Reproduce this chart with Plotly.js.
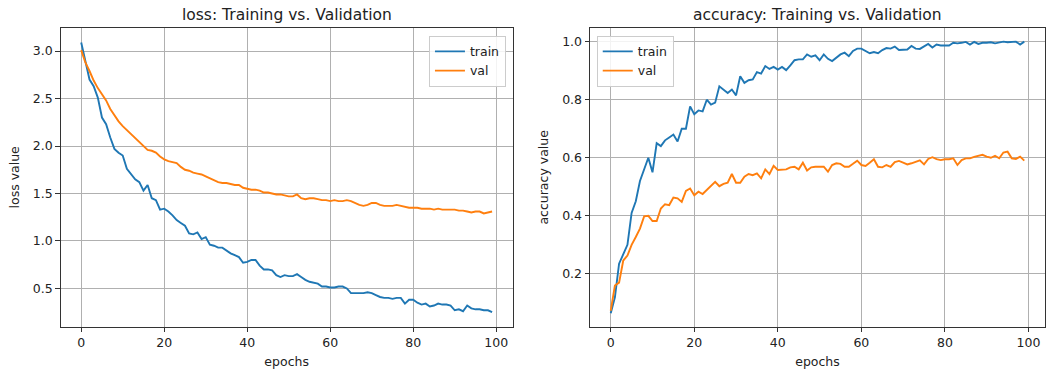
<!DOCTYPE html>
<html>
<head>
<meta charset="utf-8">
<script src="https://cdn.plot.ly/plotly-3.0.1.min.js"></script>
<style>html,body{margin:0;padding:0;background:#fff;}#chart{width:1046px;height:374px;}</style>
</head>
<body>
<div id="chart"></div>
<script>
const epochs = Array.from({length: 100}, (_, i) => i);

const trainLoss = [3.09,2.90,2.70,2.63,2.51,2.30,2.23,2.09,1.97,1.93,
1.90,1.76,1.71,1.65,1.62,1.53,1.59,1.45,1.43,1.33,
1.34,1.31,1.27,1.22,1.19,1.16,1.08,1.07,1.09,1.02,
1.04,0.96,0.95,0.93,0.93,0.90,0.87,0.85,0.83,0.77,
0.78,0.80,0.80,0.74,0.70,0.70,0.69,0.64,0.62,0.64,
0.63,0.63,0.65,0.62,0.59,0.57,0.56,0.55,0.52,0.52,
0.51,0.51,0.52,0.52,0.50,0.45,0.45,0.45,0.45,0.46,
0.45,0.43,0.41,0.40,0.40,0.39,0.40,0.40,0.34,0.38,
0.38,0.35,0.33,0.34,0.31,0.32,0.34,0.33,0.33,0.32,
0.27,0.28,0.26,0.32,0.29,0.28,0.28,0.27,0.27,0.25];

const valLoss = [3.01,2.88,2.79,2.69,2.61,2.55,2.48,2.39,2.32,2.26,
2.21,2.17,2.13,2.08,2.05,2.01,1.96,1.95,1.93,1.89,
1.86,1.84,1.83,1.82,1.78,1.75,1.74,1.72,1.71,1.70,
1.68,1.66,1.64,1.62,1.61,1.61,1.60,1.59,1.59,1.56,
1.55,1.54,1.54,1.53,1.51,1.51,1.50,1.49,1.49,1.48,
1.47,1.47,1.49,1.45,1.44,1.45,1.45,1.44,1.43,1.43,
1.42,1.43,1.42,1.42,1.43,1.42,1.40,1.38,1.37,1.38,
1.40,1.40,1.38,1.37,1.37,1.37,1.38,1.37,1.36,1.35,
1.35,1.35,1.34,1.34,1.34,1.33,1.34,1.33,1.33,1.33,
1.33,1.32,1.32,1.31,1.30,1.31,1.31,1.29,1.30,1.31];

const trainAcc = [0.064,0.119,0.235,0.27,0.30,0.41,0.45,0.52,0.56,0.60,
0.55,0.65,0.64,0.66,0.67,0.68,0.656,0.70,0.70,0.777,
0.75,0.763,0.76,0.80,0.783,0.79,0.846,0.835,0.823,0.835,
0.815,0.881,0.858,0.867,0.87,0.895,0.89,0.916,0.906,0.913,
0.904,0.913,0.902,0.918,0.936,0.939,0.939,0.956,0.948,0.953,
0.936,0.956,0.941,0.933,0.945,0.956,0.962,0.95,0.968,0.976,
0.976,0.968,0.96,0.964,0.96,0.971,0.978,0.976,0.983,0.971,
0.973,0.973,0.985,0.976,0.975,0.985,0.992,0.98,0.99,0.987,
0.987,0.987,0.996,0.994,0.996,0.999,0.99,0.999,0.992,0.996,
0.996,0.998,0.994,0.996,1.0,0.998,1.0,1.0,0.99,1.0];

const valAcc = [0.073,0.16,0.17,0.246,0.263,0.30,0.327,0.356,0.398,0.40,
0.382,0.382,0.425,0.44,0.437,0.463,0.46,0.448,0.486,0.494,
0.471,0.483,0.475,0.489,0.502,0.517,0.502,0.51,0.514,0.544,
0.514,0.514,0.535,0.544,0.54,0.546,0.529,0.56,0.544,0.572,
0.558,0.558,0.56,0.567,0.569,0.56,0.583,0.556,0.567,0.569,
0.569,0.569,0.552,0.575,0.581,0.579,0.569,0.569,0.579,0.59,
0.575,0.572,0.583,0.595,0.569,0.567,0.575,0.569,0.585,0.589,
0.583,0.577,0.581,0.585,0.591,0.577,0.596,0.602,0.595,0.592,
0.595,0.595,0.598,0.575,0.592,0.598,0.598,0.603,0.606,0.61,
0.604,0.60,0.607,0.598,0.618,0.621,0.598,0.596,0.604,0.59];

const xTicks = [0, 20, 40, 60, 80, 100];
const lossTicks = [0.5, 1.0, 1.5, 2.0, 2.5, 3.0];
const accTicks = [0.2, 0.4, 0.6, 0.8, 1.0];

const BLUE = '#1f77b4', ORANGE = '#ff7f0e';
const FONT = 'DejaVu Sans, sans-serif';
const TXT = '#222222';

const traces = [
  {x: epochs, y: trainLoss, name: 'train', type: 'scatter', mode: 'lines', line: {color: BLUE, width: 1.9}, xaxis: 'x', yaxis: 'y', legend: 'legend'},
  {x: epochs, y: valLoss, name: 'val', type: 'scatter', mode: 'lines', line: {color: ORANGE, width: 1.9}, xaxis: 'x', yaxis: 'y', legend: 'legend'},
  {x: epochs, y: trainAcc, name: 'train', type: 'scatter', mode: 'lines', line: {color: BLUE, width: 1.9}, xaxis: 'x2', yaxis: 'y2', legend: 'legend2'},
  {x: epochs, y: valAcc, name: 'val', type: 'scatter', mode: 'lines', line: {color: ORANGE, width: 1.9}, xaxis: 'x2', yaxis: 'y2', legend: 'legend2'}
];

function xAxis(domain, anchor) {
  return {
    domain: domain, anchor: anchor, range: [-4.95, 103.95],
    tickmode: 'array', tickvals: xTicks, ticktext: xTicks.map(String),
    showgrid: true, gridcolor: '#b0b0b0', gridwidth: 1, zeroline: false,
    showline: true, linecolor: '#333333', linewidth: 1, mirror: true,
    ticks: 'outside', ticklen: 4.5, tickwidth: 1, tickcolor: '#333333',
    tickfont: {family: FONT, size: 12.5, color: TXT},
    title: {text: 'epochs', font: {family: FONT, size: 12.5, color: TXT}, standoff: 8}
  };
}
function yAxis(range, ticks, anchor, label) {
  return {
    domain: [0.1265, 0.9251], anchor: anchor, range: range,
    tickmode: 'array', tickvals: ticks, ticktext: ticks.map(v => v.toFixed(1)),
    showgrid: true, gridcolor: '#b0b0b0', gridwidth: 1, zeroline: false,
    showline: true, linecolor: '#333333', linewidth: 1, mirror: true,
    ticks: 'outside', ticklen: 4.5, tickwidth: 1, tickcolor: '#333333',
    tickfont: {family: FONT, size: 12.5, color: TXT},
    title: {text: label, font: {family: FONT, size: 12.5, color: TXT}, standoff: 10}
  };
}

const legendStyle = {
  bgcolor: 'rgba(255,255,255,0.85)', bordercolor: '#cccccc', borderwidth: 1,
  font: {family: FONT, size: 12.5, color: TXT}, itemwidth: 30,
  yanchor: 'top', y: 0.9045
};

const layout = {
  width: 1046, height: 374,
  margin: {l: 0, r: 0, t: 0, b: 0},
  paper_bgcolor: '#ffffff', plot_bgcolor: '#ffffff',
  showlegend: true,
  xaxis: xAxis([0.0580, 0.4901], 'y'),
  yaxis: yAxis([0.097, 3.243], lossTicks, 'x', 'loss value'),
  xaxis2: xAxis([0.5641, 0.9990], 'y2'),
  yaxis2: yAxis([0.018, 1.047], accTicks, 'x2', 'accuracy value'),
  legend: Object.assign({}, legendStyle, {x: 0.4837, xanchor: 'right'}),
  legend2: Object.assign({}, legendStyle, {x: 0.5705, xanchor: 'left'}),
  annotations: [
    {text: 'loss: Training vs. Validation', xref: 'paper', yref: 'paper', x: 0.27405, y: 0.96, xanchor: 'center', yanchor: 'middle', showarrow: false, font: {family: FONT, size: 15.5, color: TXT}},
    {text: 'accuracy: Training vs. Validation', xref: 'paper', yref: 'paper', x: 0.78155, y: 0.96, xanchor: 'center', yanchor: 'middle', showarrow: false, font: {family: FONT, size: 15.5, color: TXT}}
  ]
};

Plotly.newPlot('chart', traces, layout, {displayModeBar: false, staticPlot: true});
</script>
</body>
</html>
